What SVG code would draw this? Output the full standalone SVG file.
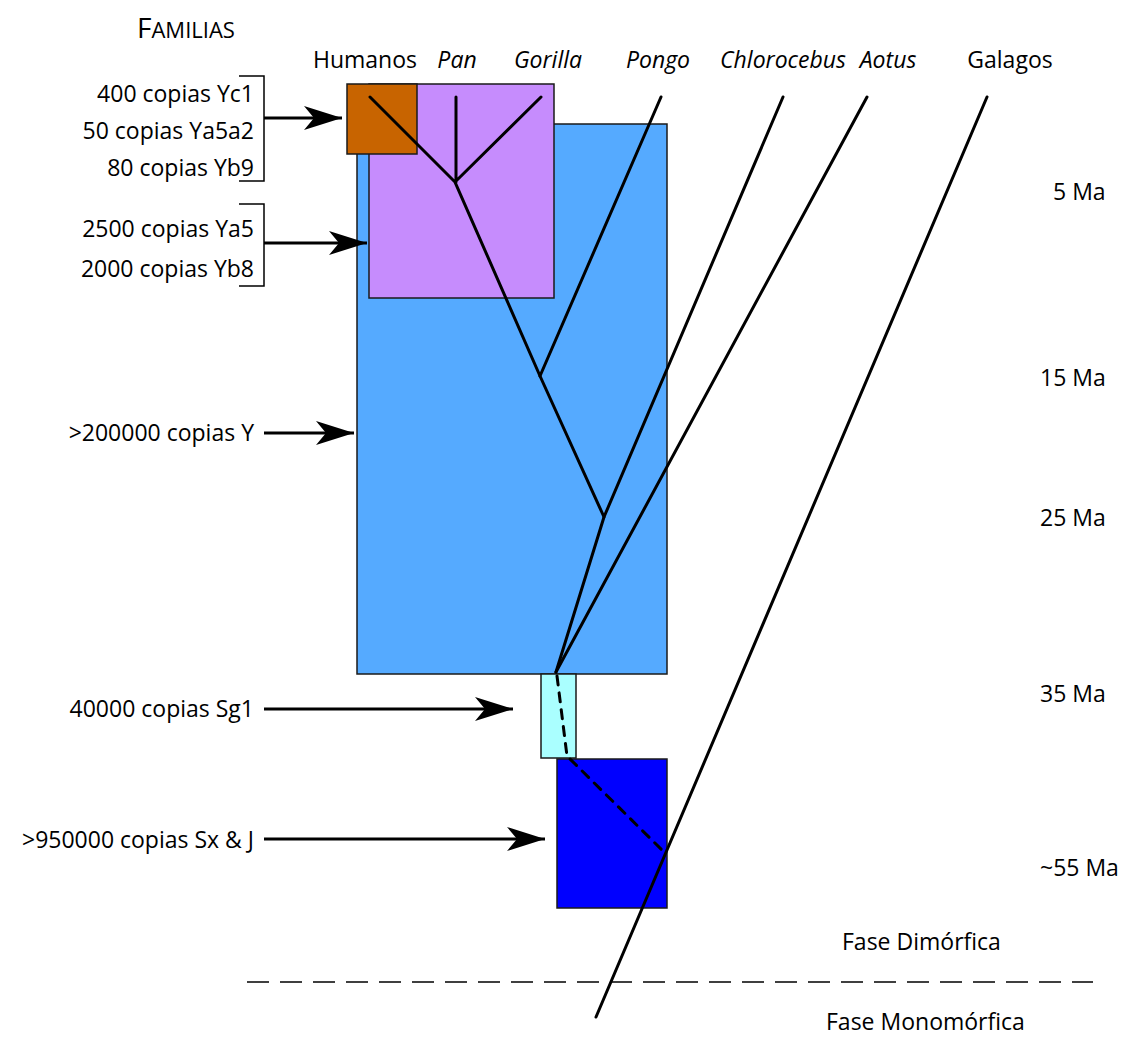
<svg xmlns="http://www.w3.org/2000/svg" width="1126" height="1038" viewBox="0 0 1126 1038">
  <defs>
    <style>
      text { font-family: "Open Sans", "Noto Sans", "DejaVu Sans", sans-serif; font-size: 23px; fill: #000; }
      .lbl { text-anchor: end; }
      .it { font-style: italic; }
      .box { stroke: #1a1a1a; stroke-width: 1.5; }
      .br { fill: none; stroke: #000; stroke-width: 1.5; }
      .tree { fill: none; stroke: #000; stroke-width: 3; stroke-linecap: round; }
      .arr { fill: none; stroke: #000; stroke-width: 3; marker-end: url(#head); }
    </style>
    <marker id="head" markerUnits="userSpaceOnUse" markerWidth="40" markerHeight="26" refX="38" refY="12" orient="auto" overflow="visible">
      <path d="M38,12 L0,0 L10,12 L0,24 Z" fill="#000"/>
    </marker>
  </defs>

  <!-- heading -->
  <text x="137" y="38"><tspan font-size="28">F</tspan><tspan font-size="22">AMILIAS</tspan></text>

  <!-- taxon names -->
  <g id="taxa">
    <text x="365" y="68" text-anchor="middle">Humanos</text>
    <text x="457" y="68" text-anchor="middle" class="it">Pan</text>
    <text x="548" y="68" text-anchor="middle" class="it">Gorilla</text>
    <text x="658" y="68" text-anchor="middle" class="it">Pongo</text>
    <text x="783" y="68" text-anchor="middle" class="it">Chlorocebus</text>
    <text x="888" y="68" text-anchor="middle" class="it">Aotus</text>
    <text x="1010" y="68" text-anchor="middle">Galagos</text>
  </g>

  <!-- family boxes -->
  <g id="fam-Y"><rect class="box" x="357" y="124" width="310" height="550" fill="#55aaff"/></g>
  <g id="fam-Ya5-Yb8"><rect class="box" x="369" y="84" width="185" height="214" fill="#c68cfd"/></g>
  <g id="fam-Yc1-Ya5a2-Yb9"><rect class="box" x="347" y="84" width="70" height="70" fill="#c86400"/></g>
  <g id="fam-Sg1"><rect class="box" x="541" y="674" width="35" height="84" fill="#aaffff"/></g>
  <g id="fam-Sx-J"><rect class="box" x="557" y="759" width="110" height="149" fill="#0000ff"/></g>

  <!-- copy-number labels -->
  <g id="labels">
    <text class="lbl" x="254" y="102">400 copias Yc1</text>
    <text class="lbl" x="254" y="139">50 copias Ya5a2</text>
    <text class="lbl" x="254" y="176">80 copias Yb9</text>
    <text class="lbl" x="254" y="237">2500 copias Ya5</text>
    <text class="lbl" x="254" y="277">2000 copias Yb8</text>
    <text class="lbl" x="254" y="441">&gt;200000 copias Y</text>
    <text class="lbl" x="254" y="717">40000 copias Sg1</text>
    <text class="lbl" x="254" y="848">&gt;950000 copias Sx &amp; J</text>
  </g>

  <!-- time scale -->
  <g id="scale">
    <text x="1053" y="200">5 Ma</text>
    <text x="1040" y="386">15 Ma</text>
    <text x="1040" y="526">25 Ma</text>
    <text x="1040" y="702">35 Ma</text>
    <text x="1040" y="876">~55 Ma</text>
    <text x="842" y="950" font-size="22">Fase Dimórfica</text>
    <text x="826" y="1030" font-size="22">Fase Monomórfica</text>
  </g>

  <g id="connectors">
    <!-- brackets -->
    <path class="br" d="M239,76 H264 V181 H239"/>
    <path class="br" d="M239,204 H264 V286 H239"/>
    <!-- arrows -->
    <line class="arr" x1="264" y1="118" x2="342" y2="118"/>
    <line class="arr" x1="264" y1="243" x2="367" y2="243"/>
    <line class="arr" x1="264" y1="433" x2="354" y2="433"/>
    <line class="arr" x1="264" y1="709" x2="513" y2="709"/>
    <line class="arr" x1="264" y1="839" x2="545" y2="839"/>
    <!-- primate tree -->
    <path class="tree" d="M370,97 L455,182 M456,97 V182 M541,97 L455,182 L540,376 L604,517 L556,672"/>
    <line class="tree" x1="661" y1="97" x2="540" y2="376"/>
    <line class="tree" x1="783" y1="97" x2="604" y2="517"/>
    <line class="tree" x1="867" y1="97" x2="556" y2="672"/>
    <line class="tree" x1="987" y1="97" x2="596" y2="1017"/>
    <path class="tree" stroke-dasharray="9,8" d="M557,676 L567,756 L664,852"/>
    <!-- phase boundary -->
    <line x1="247" y1="982" x2="1093" y2="982" stroke="#000" stroke-width="1.5" stroke-dasharray="22,11"/>
  </g>
</svg>
